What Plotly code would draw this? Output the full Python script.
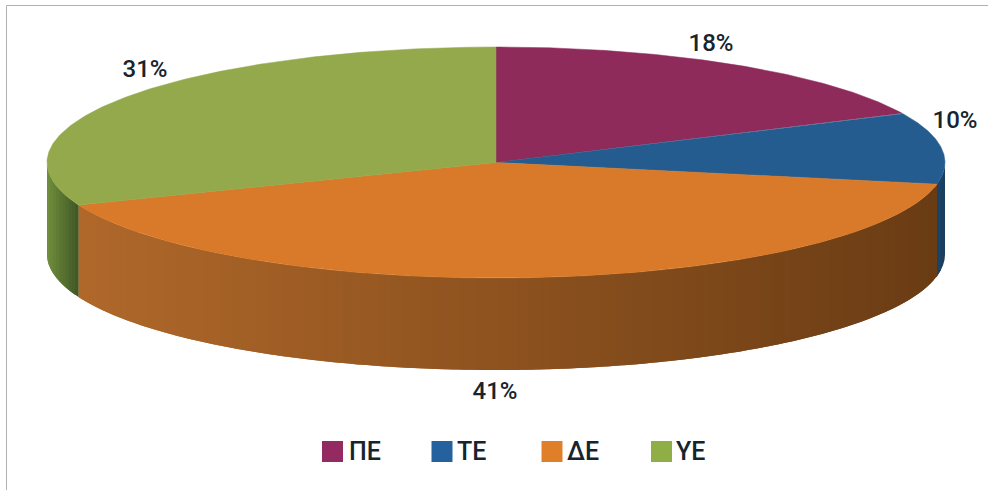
import numpy as np
import plotly.graph_objects as go

# Data
categories = ["ΠΕ", "ΤΕ", "ΔΕ", "ΥΕ"]
shares = [18, 10, 41, 31]
share_labels = ["18%", "10%", "41%", "31%"]

# Style
top_colors = ["#8E2B5B", "#255C8F", "#D87A29", "#93A94B"]
swatch_colors = ["#932A62", "#25609F", "#DF7F2A", "#8FAE45"]
side_left = [(110, 35, 70), (30, 70, 105), (176, 104, 42), (112, 143, 60)]
side_right = [(90, 25, 55), (24, 60, 92), (106, 60, 20), (64, 86, 38)]
TEXT = "#16242e"
FONT = "Roboto"

# Layout of the tilted disc, in page pixels
CX, CY, RX, RY, DEPTH = 496, 162.5, 449, 115.5, 92
label_pos = [(711, 45), (955, 122), (495, 393), (145, 71)]
legend_x = [332.5, 442, 552, 661.5]
legend_y = 451.5
legend_text_x = [349, 457, 567, 676]
legend_text_y = 453.5
STRIP_PX = 3


def ell(t):
    return CX + RX * np.sin(t), CY - RY * np.cos(t)


def mix(a, b, f):
    return "rgb(%d,%d,%d)" % tuple(round(a[i] + (b[i] - a[i]) * f) for i in range(3))


fig = go.Figure()
edges = np.cumsum([0] + shares) / sum(shares) * 2 * np.pi
front_a, front_b = np.pi / 2, 3 * np.pi / 2

# Side wall: thin strips, equal in page width, shaded left to right
for i in range(len(shares)):
    a, b = max(edges[i], front_a), min(edges[i + 1], front_b)
    if b <= a:
        continue
    x_right, x_left = ell(a)[0], ell(b)[0]
    n = max(2, int((x_right - x_left) / STRIP_PX))
    xs = np.linspace(x_right, x_left, n + 1)
    # angle of each strip boundary on the front half of the ellipse
    ts = np.pi - np.arcsin(np.clip((xs - CX) / RX, -1, 1))
    for j in range(n):
        t_next = ts[min(j + 2, n)]  # overlap the next strip so no seam shows
        tt = np.linspace(ts[j], t_next, 5)
        x, y = ell(tt)
        f = (x_right - (xs[j] + xs[j + 1]) / 2) / (x_right - x_left)
        c = mix(side_right[i], side_left[i], f)
        fig.add_trace(go.Scatter(
            x=np.r_[x, x[::-1]], y=np.r_[y, y[::-1] + DEPTH],
            mode="lines", fill="toself", fillcolor=c,
            line=dict(color=c, width=0), hoverinfo="skip", showlegend=False))

# Top face
for i, cat in enumerate(categories):
    tt = np.linspace(edges[i], edges[i + 1], 160)
    x, y = ell(tt)
    fig.add_trace(go.Scatter(
        x=np.r_[CX, x, CX], y=np.r_[CY, y, CY], name=cat,
        mode="lines", fill="toself", fillcolor=top_colors[i],
        line=dict(color=top_colors[i], width=0.5),
        text=share_labels[i], hoverinfo="name+text", showlegend=False))

# Value labels
fig.add_trace(go.Scatter(
    x=[p[0] for p in label_pos], y=[p[1] for p in label_pos],
    text=share_labels, mode="text", hoverinfo="skip", showlegend=False,
    textfont=dict(family=FONT, size=24, color=TEXT, weight=500)))

# Legend
fig.add_trace(go.Scatter(
    x=legend_x, y=[legend_y] * 4, mode="markers",
    hoverinfo="skip", showlegend=False,
    marker=dict(symbol="square", size=21, color=swatch_colors, line=dict(width=0))))
fig.add_trace(go.Scatter(
    x=legend_text_x, y=[legend_text_y] * 4, text=categories, mode="text",
    textposition="middle right", hoverinfo="skip", showlegend=False,
    textfont=dict(family=FONT, size=25, color=TEXT, weight=500)))

fig.update_layout(
    width=988, height=490, margin=dict(l=0, r=0, t=0, b=0),
    paper_bgcolor="white", plot_bgcolor="white",
    xaxis=dict(range=[0, 988], visible=False, fixedrange=True),
    yaxis=dict(range=[490, 0], visible=False, fixedrange=True),
    shapes=[
        dict(type="line", x0=6.5, x1=6.5, y0=5.5, y1=490, line=dict(color="#b0b0b0", width=1)),
        dict(type="line", x0=6.5, x1=988, y0=5.5, y1=5.5, line=dict(color="#b0b0b0", width=1)),
    ],
)
fig.write_html(
    "out.html",
    post_script="document.body.style.margin='0';document.body.style.overflow='hidden';",
    config={"displayModeBar": False},
)
